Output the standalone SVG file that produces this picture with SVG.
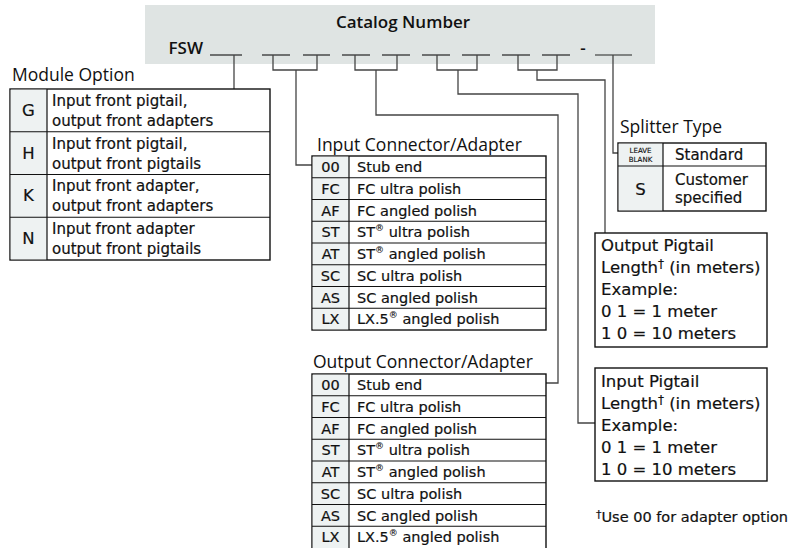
<svg xmlns="http://www.w3.org/2000/svg" width="790" height="548" viewBox="0 0 790 548">
<defs>
<style>
text{font-family:"DejaVu Sans","Open Sans",sans-serif;fill:#111;}
.hd{font-family:"Open Sans","DejaVu Sans",sans-serif;font-size:17px;font-weight:600;}
.ttl{font-family:"Open Sans","DejaVu Sans",sans-serif;font-size:17.5px;font-weight:400;}
.b,.t,.bx,.fn{stroke:#111;stroke-width:0.2;}
.b{font-size:15px;}
.t{font-size:14.5px;}
.bx{font-size:16.5px;}
.fn{font-size:14.5px;}
.c{text-anchor:middle;}
.sup{font-size:9px;stroke-width:0.1;}
.tbl{fill:#fff;stroke:#111;stroke-width:1.4;}
.code{fill:#eef2f2;stroke:none;}
.rl{stroke:#111;stroke-width:1.2;fill:none;}
.conn path{stroke:#444;stroke-width:1.3;fill:none;}
.blank{stroke:#222;stroke-width:1.2;}
</style>
</defs>
<g id="header">
<rect x="145" y="5" width="510" height="59" fill="#dfe4e3"/>
<text class="hd c" x="403" y="28">Catalog Number</text>
<text class="hd" x="203" y="54" text-anchor="end">FSW</text>
<g class="blank">
<line x1="210" y1="55" x2="242" y2="55"/>
<line x1="262" y1="55" x2="290" y2="55"/>
<line x1="303" y1="55" x2="330" y2="55"/>
<line x1="342" y1="55" x2="370" y2="55"/>
<line x1="382" y1="55" x2="410" y2="55"/>
<line x1="422" y1="55" x2="450" y2="55"/>
<line x1="462" y1="55" x2="490" y2="55"/>
<line x1="502" y1="55" x2="530" y2="55"/>
<line x1="542" y1="55" x2="570" y2="55"/>
<line x1="595" y1="55" x2="632" y2="55"/>
</g>
<text class="hd c" x="583" y="54">-</text>
</g>
<g class="conn" id="connectors">
<path d="M234,55 V89"/>
<path d="M273,55 V70 H317 V55 M296,70 V165 H312"/>
<path d="M355,55 V70 H397 V55 M376,70 V115 H558 V383 H546"/>
<path d="M437,55 V70 H477 V55 M458,70 V94 H578 V423 H595"/>
<path d="M518,55 V70 H557 V55 M537,70 V80 H605 V233"/>
<path d="M613,55 V153 H618"/>
</g>
<g id="module-option">
<text class="ttl" x="12" y="81">Module Option</text>
<rect class="tbl" x="10" y="89" width="260" height="171"/>
<rect class="code" x="10.7" y="89.7" width="36.3" height="169.6"/>
<path class="rl" d="M47,89 V260 M10,131.75 H270 M10,174.5 H270 M10,217.25 H270"/>
<text class="bx c" x="28.5" y="116">G</text>
<text class="bx c" x="28.5" y="159">H</text>
<text class="bx c" x="28.5" y="201">K</text>
<text class="bx c" x="28.5" y="244">N</text>
<text class="b" x="52" y="106">Input front pigtail,</text>
<text class="b" x="52" y="126">output front adapters</text>
<text class="b" x="52" y="149">Input front pigtail,</text>
<text class="b" x="52" y="169">output front pigtails</text>
<text class="b" x="52" y="191">Input front adapter,</text>
<text class="b" x="52" y="211">output front adapters</text>
<text class="b" x="52" y="234">Input front adapter</text>
<text class="b" x="52" y="254">output front pigtails</text>
</g>
<g id="input-connector">
<text class="ttl" x="317" y="151">Input Connector/Adapter</text>
<rect class="tbl" x="312" y="156" width="234" height="174"/>
<rect class="code" x="312.7" y="156.7" width="36.3" height="172.6"/>
<path class="rl" d="M349,156 V330 M312,177.75 H546 M312,199.5 H546 M312,221.25 H546 M312,243 H546 M312,264.75 H546 M312,286.5 H546 M312,308.25 H546"/>
<text class="t c" x="330.5" y="172">00</text>
<text class="t c" x="330.5" y="194">FC</text>
<text class="t c" x="330.5" y="216">AF</text>
<text class="t c" x="330.5" y="237">ST</text>
<text class="t c" x="330.5" y="259">AT</text>
<text class="t c" x="330.5" y="281">SC</text>
<text class="t c" x="330.5" y="303">AS</text>
<text class="t c" x="330.5" y="324">LX</text>
<text class="t" x="357" y="172">Stub end</text>
<text class="t" x="357" y="194">FC ultra polish</text>
<text class="t" x="357" y="216">FC angled polish</text>
<text class="t" x="357" y="237">ST<tspan class="sup" dy="-6">®</tspan><tspan dy="6"> ultra polish</tspan></text>
<text class="t" x="357" y="259">ST<tspan class="sup" dy="-6">®</tspan><tspan dy="6"> angled polish</tspan></text>
<text class="t" x="357" y="281">SC ultra polish</text>
<text class="t" x="357" y="303">SC angled polish</text>
<text class="t" x="357" y="324">LX.5<tspan class="sup" dy="-6">®</tspan><tspan dy="6"> angled polish</tspan></text>
</g>
<g id="output-connector">
<text class="ttl" x="313" y="368">Output Connector/Adapter</text>
<rect class="tbl" x="312" y="374" width="234" height="180"/>
<rect class="code" x="312.7" y="374.7" width="36.3" height="178"/>
<path class="rl" d="M349,374 V554 M312,395.75 H546 M312,417.5 H546 M312,439.25 H546 M312,461 H546 M312,482.75 H546 M312,504.5 H546 M312,526.25 H546"/>
<text class="t c" x="330.5" y="390">00</text>
<text class="t c" x="330.5" y="412">FC</text>
<text class="t c" x="330.5" y="434">AF</text>
<text class="t c" x="330.5" y="455">ST</text>
<text class="t c" x="330.5" y="477">AT</text>
<text class="t c" x="330.5" y="499">SC</text>
<text class="t c" x="330.5" y="521">AS</text>
<text class="t c" x="330.5" y="542">LX</text>
<text class="t" x="357" y="390">Stub end</text>
<text class="t" x="357" y="412">FC ultra polish</text>
<text class="t" x="357" y="434">FC angled polish</text>
<text class="t" x="357" y="455">ST<tspan class="sup" dy="-6">®</tspan><tspan dy="6"> ultra polish</tspan></text>
<text class="t" x="357" y="477">ST<tspan class="sup" dy="-6">®</tspan><tspan dy="6"> angled polish</tspan></text>
<text class="t" x="357" y="499">SC ultra polish</text>
<text class="t" x="357" y="521">SC angled polish</text>
<text class="t" x="357" y="542">LX.5<tspan class="sup" dy="-6">®</tspan><tspan dy="6"> angled polish</tspan></text>
</g>
<g id="splitter-type">
<text class="ttl" x="620" y="133">Splitter Type</text>
<rect class="tbl" x="618" y="143" width="148" height="68"/>
<rect class="code" x="618.7" y="143.7" width="44.3" height="66.6"/>
<path class="rl" d="M663,143 V211 M618,166 H766"/>
<text class="c" x="640.5" y="153" style="font-size:7px;stroke:#111;stroke-width:0.15">LEAVE</text>
<text class="c" x="640.5" y="162" style="font-size:7px;stroke:#111;stroke-width:0.15">BLANK</text>
<text class="b" x="675" y="160">Standard</text>
<text class="bx c" x="640.5" y="195">S</text>
<text class="b" x="675" y="185">Customer</text>
<text class="b" x="675" y="203">specified</text>
</g>
<g id="output-pigtail">
<rect class="tbl" x="595" y="233" width="172" height="114"/>
<text class="bx" x="601" y="251">Output Pigtail</text>
<text class="bx" x="601" y="273">Length<tspan style="font-size:12px" dy="-5">†</tspan><tspan dy="5"> (in meters)</tspan></text>
<text class="bx" x="601" y="295">Example:</text>
<text class="bx" x="601" y="317">0 1 = 1 meter</text>
<text class="bx" x="601" y="339">1 0 = 10 meters</text>
</g>
<g id="input-pigtail">
<rect class="tbl" x="595" y="368" width="172" height="113"/>
<text class="bx" x="601" y="387">Input Pigtail</text>
<text class="bx" x="601" y="409">Length<tspan style="font-size:12px" dy="-5">†</tspan><tspan dy="5"> (in meters)</tspan></text>
<text class="bx" x="601" y="431">Example:</text>
<text class="bx" x="601" y="453">0 1 = 1 meter</text>
<text class="bx" x="601" y="475">1 0 = 10 meters</text>
</g>
<g id="footnote">
<text class="fn" x="596" y="522"><tspan style="font-size:11px" dy="-4">†</tspan><tspan dy="4">Use 00 for adapter option</tspan></text>
</g>
</svg>
